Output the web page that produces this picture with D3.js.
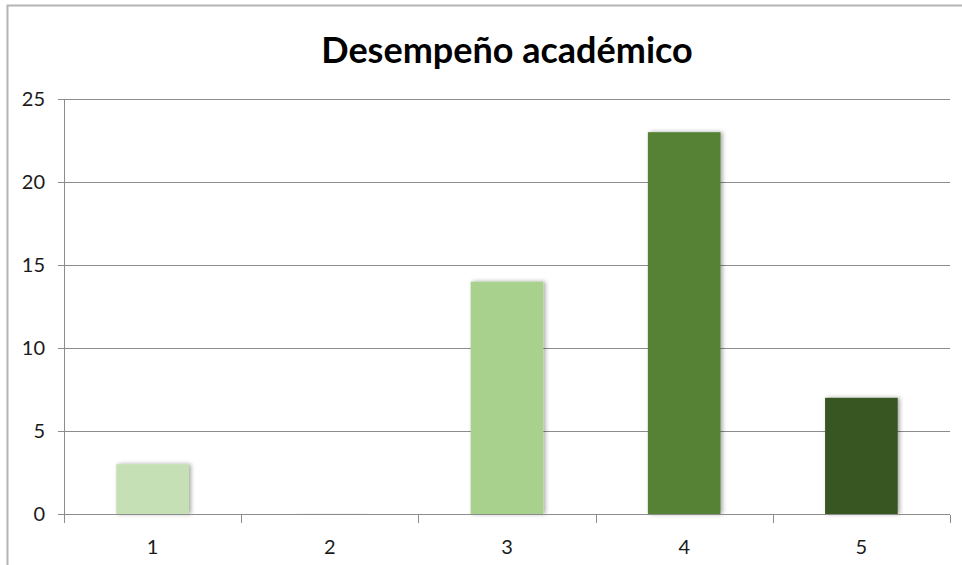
<!DOCTYPE html>
<html>
  <head>
    <meta charset="utf-8">
    <title>Desempeño académico</title>
    <script src="https://d3js.org/d3.v7.min.js"></script>
    <style>
    html, body { margin: 0; padding: 0; background: #fff; }
    svg { display: block; }
    text { font-family: Lato, "Open Sans", sans-serif; fill: #111; }
    .grid line { stroke: #8c8c8c; stroke-width: 1px; shape-rendering: crispEdges; }
    .axis path, .axis line { stroke: #8c8c8c; shape-rendering: crispEdges; }
    .axis text { font-size: 20px; fill: #1a1a1a; }
    </style>
  </head>
  <body>
    <script>

        var categories = ["1", "2", "3", "4", "5"];
        var values = [3, 0, 14, 23, 7];
        var yTicks = [0, 5, 10, 15, 20, 25];
        var barColors = ["#c5e0b4", "#e2f0d9", "#a9d18e", "#548235", "#385723"];

        var width = 962,
            height = 565;

        var margin = {top: 99, right: 12, bottom: 51, left: 64};

        var svg = d3.select("body").append("svg")
            .attr("width", width)
            .attr("height", height);

        // soft shadow like the office chart
        var f = svg.append("defs").append("filter")
            .attr("id", "shadow")
            .attr("x", "-20%").attr("y", "-20%")
            .attr("width", "140%").attr("height", "140%");
        f.append("feDropShadow")
            .attr("dx", 2).attr("dy", 0)
            .attr("stdDeviation", 2)
            .attr("flood-color", "#000")
            .attr("flood-opacity", 0.35);

        // frame of the chart object
        svg.append("path")
            .attr("d", "M7.5," + height + "V5.5H" + width)
            .attr("fill", "none")
            .attr("stroke", "#b4b4b4")
            .attr("stroke-width", 2);

        var x = d3.scaleBand()
            .domain(categories)
            .range([margin.left, width - margin.right])
            .paddingInner(0.59)
            .paddingOuter(0.295);

        var xCat = d3.scaleBand()
            .domain(categories)
            .range([margin.left, width - margin.right]);

        var y = d3.scaleLinear()
            .domain([0, 25])
            .range([height - margin.bottom, margin.top]);

        // gridlines
        svg.append("g")
            .attr("class", "grid")
            .selectAll("line")
            .data(yTicks.slice(1))
            .enter().append("line")
            .attr("x1", margin.left)
            .attr("x2", width - margin.right)
            .attr("y1", function (d) { return Math.round(y(d)) + 0.5; })
            .attr("y2", function (d) { return Math.round(y(d)) + 0.5; });

        // y axis
        svg.append("g")
            .attr("class", "axis")
            .attr("transform", "translate(" + margin.left + ",0)")
            .call(d3.axisLeft(y).tickValues(yTicks).tickSize(6).tickPadding(13).tickSizeOuter(0));

        // bars
        svg.append("g")
            .selectAll("rect")
            .data(values)
            .enter().append("rect")
            .attr("x", function (d, i) { return x(categories[i]); })
            .attr("width", x.bandwidth())
            .attr("y", function (d) { return y(d); })
            .attr("height", function (d) { return Math.max(0.6, y(0) - y(d)); })
            .attr("fill", function (d, i) { return barColors[i]; })
            .attr("filter", "url(#shadow)");

        // x axis: ticks at category boundaries
        var xg = svg.append("g")
            .attr("class", "axis")
            .attr("transform", "translate(0," + (Math.round(y(0)) + 0.5) + ")");

        xg.append("line")
            .attr("x1", margin.left - 6)
            .attr("x2", width - margin.right);

        var bounds = categories.map(function (c) { return xCat(c); }).concat([width - margin.right]);
        xg.selectAll(".tk")
            .data(bounds)
            .enter().append("line")
            .attr("class", "tk")
            .attr("x1", function (d) { return Math.round(d) + 0.5; })
            .attr("x2", function (d) { return Math.round(d) + 0.5; })
            .attr("y1", 0)
            .attr("y2", 8);

        xg.selectAll(".lbl")
            .data(categories)
            .enter().append("text")
            .attr("class", "lbl")
            .attr("x", function (d) { return xCat(d) + xCat.bandwidth() / 2; })
            .attr("y", 39)
            .attr("text-anchor", "middle")
            .text(function (d) { return d; });

        // title
        svg.append("text")
            .attr("x", (margin.left + width - margin.right) / 2)
            .attr("y", 63)
            .attr("text-anchor", "middle")
            .style("font-size", "36px")
            .style("font-weight", "bold")
            .style("fill", "#000")
            .text("Desempeño académico");

    </script>
  </body>
</html>
